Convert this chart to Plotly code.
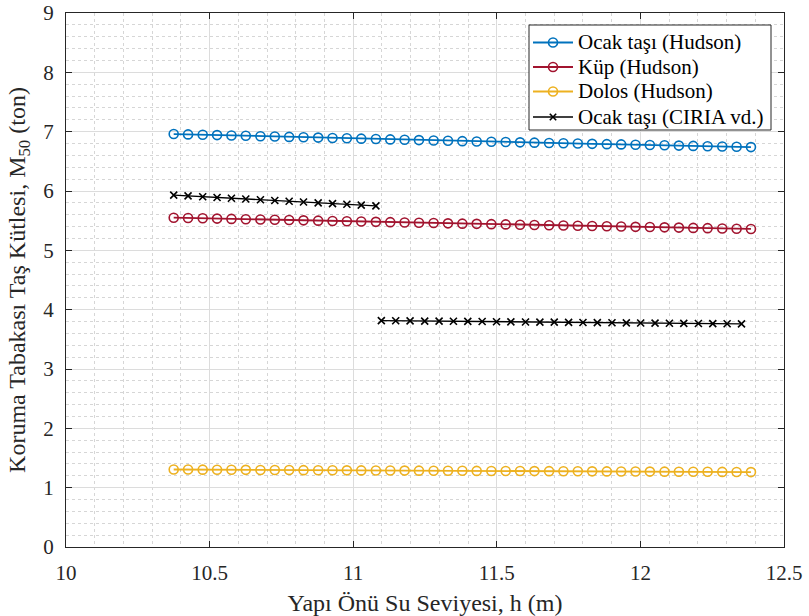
import plotly.graph_objects as go

# ---- data ----
x_hudson = [10.375, 10.425, 10.476, 10.526, 10.576, 10.626, 10.677, 10.727, 10.777, 10.827,
            10.878, 10.928, 10.978, 11.028, 11.079, 11.129, 11.179, 11.229, 11.280, 11.330,
            11.380, 11.430, 11.481, 11.531, 11.581, 11.631, 11.682, 11.732, 11.782, 11.832,
            11.883, 11.933, 11.983, 12.033, 12.084, 12.134, 12.184, 12.234, 12.285, 12.335,
            12.385]
ocak_hudson = [6.960, 6.954, 6.948, 6.942, 6.936, 6.930, 6.924, 6.918, 6.912, 6.906,
               6.900, 6.894, 6.888, 6.882, 6.876, 6.870, 6.864, 6.858, 6.852, 6.846,
               6.840, 6.835, 6.830, 6.825, 6.820, 6.815, 6.810, 6.805, 6.800, 6.795,
               6.790, 6.785, 6.780, 6.775, 6.770, 6.765, 6.760, 6.755, 6.750, 6.745,
               6.740]
kup_hudson = [5.550, 5.545, 5.540, 5.535, 5.530, 5.525, 5.520, 5.515, 5.510, 5.505,
              5.500, 5.495, 5.490, 5.485, 5.480, 5.475, 5.470, 5.465, 5.460, 5.455,
              5.450, 5.446, 5.441, 5.437, 5.432, 5.428, 5.423, 5.419, 5.414, 5.410,
              5.405, 5.401, 5.396, 5.392, 5.387, 5.383, 5.378, 5.374, 5.369, 5.365,
              5.360]
dolos_hudson = [1.306, 1.305, 1.304, 1.302, 1.301, 1.300, 1.299, 1.298, 1.297, 1.295,
                1.294, 1.293, 1.292, 1.291, 1.290, 1.289, 1.288, 1.287, 1.286, 1.285,
                1.284, 1.283, 1.282, 1.281, 1.280, 1.279, 1.278, 1.277, 1.276, 1.275,
                1.274, 1.273, 1.272, 1.271, 1.270, 1.269, 1.268, 1.267, 1.266, 1.264,
                1.262]
x_ciria1 = [10.375, 10.425, 10.476, 10.526, 10.576, 10.626, 10.677, 10.727, 10.777, 10.827,
            10.878, 10.928, 10.978, 11.028, 11.079]
ocak_ciria1 = [5.930, 5.917, 5.904, 5.891, 5.878, 5.865, 5.852, 5.840, 5.827, 5.814,
               5.801, 5.788, 5.776, 5.763, 5.750]
x_ciria2 = [11.098, 11.148, 11.198, 11.249, 11.299, 11.349, 11.399, 11.449, 11.499, 11.549,
            11.600, 11.650, 11.700, 11.750, 11.800, 11.850, 11.901, 11.951, 12.001, 12.051,
            12.101, 12.151, 12.202, 12.252, 12.302, 12.352]
ocak_ciria2 = [3.815, 3.813, 3.811, 3.808, 3.806, 3.804, 3.802, 3.800, 3.797, 3.795,
               3.793, 3.791, 3.789, 3.786, 3.784, 3.782, 3.780, 3.778, 3.775, 3.773,
               3.771, 3.769, 3.767, 3.764, 3.762, 3.760]

x_ticks = [10, 10.5, 11, 11.5, 12, 12.5]
y_ticks = [0, 1, 2, 3, 4, 5, 6, 7, 8, 9]

names = ["Ocak taşı (Hudson)", "Küp (Hudson)", "Dolos (Hudson)", "Ocak taşı (CIRIA vd.)"]
colors = ["#0072BD", "#A2142F", "#EDB120", "#000000"]
symbols = ["circle", "circle", "circle", "x"]

FONT = "Liberation Serif"

fig = go.Figure()
circ = dict(symbol="circle-open", size=9, line=dict(width=1.6))
for xs, ys, nm, c in [(x_hudson, ocak_hudson, names[0], colors[0]),
                      (x_hudson, kup_hudson, names[1], colors[1]),
                      (x_hudson, dolos_hudson, names[2], colors[2])]:
    fig.add_trace(go.Scatter(x=xs, y=ys, name=nm, mode="lines+markers", showlegend=False,
                             line=dict(color=c, width=1.8),
                             marker=dict(color=c, **circ)))

xm = dict(symbol="x-thin-open", size=7, line=dict(width=1.6, color=colors[3]), color=colors[3])
fig.add_trace(go.Scatter(x=x_ciria1, y=ocak_ciria1, name=names[3], mode="lines+markers",
                         showlegend=False, line=dict(color=colors[3], width=1.4), marker=xm))
fig.add_trace(go.Scatter(x=x_ciria2, y=ocak_ciria2, name=names[3], mode="lines+markers",
                         showlegend=False, line=dict(color=colors[3], width=1.4), marker=xm))

# ---- legend box (drawn manually to match MATLAB spacing) ----
W, H, L, T = 718, 534, 66, 13          # plot area in pixels
px = lambda v: (v - L) / W
py = lambda v: 1 - (v - T) / H
shapes = [dict(type="rect", xref="paper", yref="paper", layer="above",
               x0=px(529), x1=px(771), y0=py(130), y1=py(25),
               fillcolor="white", line=dict(color="#262626", width=1))]
annotations = []
row_px = [42.5, 67, 91.5, 117]
for i, (nm, c, s) in enumerate(zip(names, colors, symbols)):
    yy = py(row_px[i])
    shapes.append(dict(type="line", xref="paper", yref="paper", layer="above",
                       x0=px(533), x1=px(573), y0=yy, y1=yy,
                       line=dict(color=c, width=1.8 if s == "circle" else 1.4)))
    if s == "circle":
        shapes.append(dict(type="circle", xref="paper", yref="paper", layer="above",
                           xsizemode="pixel", ysizemode="pixel",
                           xanchor=px(553), yanchor=yy, x0=-4.5, x1=4.5, y0=-4.5, y1=4.5,
                           fillcolor="rgba(0,0,0,0)", line=dict(color=c, width=1.6)))
    else:
        for sgn in (1, -1):
            shapes.append(dict(type="line", xref="paper", yref="paper", layer="above",
                               xsizemode="pixel", ysizemode="pixel",
                               xanchor=px(553), yanchor=yy, x0=-3.2, x1=3.2,
                               y0=-3.2 * sgn, y1=3.2 * sgn,
                               line=dict(color=c, width=1.6)))
    annotations.append(dict(text=nm, xref="paper", yref="paper", x=px(576), y=yy,
                            xanchor="left", yanchor="middle", showarrow=False,
                            font=dict(family=FONT, size=21, color="#000000")))

axis_common = dict(showline=True, linecolor="#262626", linewidth=1, mirror="ticks",
                   ticks="inside", ticklen=6, tickcolor="#262626",
                   showgrid=True, gridcolor="#DCDCDC", gridwidth=1, zeroline=False,
                   automargin=False)

fig.update_layout(
    width=809, height=616,
    paper_bgcolor="white", plot_bgcolor="white",
    margin=dict(l=L, r=809 - L - W, t=T, b=616 - T - H),
    font=dict(family=FONT, color="#262626", size=21),
    xaxis=dict(range=[10, 12.5], tickvals=x_ticks, ticktext=[str(v) for v in x_ticks],
               ticklabelstandoff=7,
               tickfont=dict(family=FONT, size=21, color="#262626"),
               title=dict(text="Yapı Önü Su Seviyesi, h (m)", font=dict(family=FONT, size=24),
                          standoff=12),
               minor=dict(showgrid=True, dtick=0.1, griddash="dot", gridcolor="#D6D6D6",
                          ticks=""),
               **axis_common),
    yaxis=dict(range=[0, 9], tickvals=y_ticks, ticktext=[str(v) for v in y_ticks],
               ticklabelstandoff=7,
               tickfont=dict(family=FONT, size=21, color="#262626"),
               title=dict(text="Koruma Tabakası Taş Kütlesi, M<sub>50</sub> (ton)",
                          font=dict(family=FONT, size=24), standoff=10),
               minor=dict(showgrid=True, dtick=0.2, griddash="dot", gridcolor="#D6D6D6",
                          ticks=""),
               **axis_common),
    shapes=shapes,
    annotations=annotations,
    showlegend=False,
)

fig.write_html("out.html")
